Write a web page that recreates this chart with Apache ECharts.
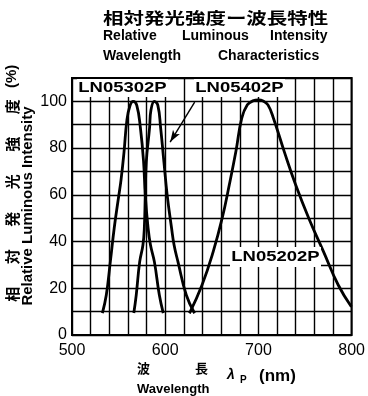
<!DOCTYPE html>
<html>
<head>
<meta charset="utf-8">
<script src="https://cdn.jsdelivr.net/npm/echarts@6/dist/echarts.min.js"></script>
<style>
html,body{margin:0;padding:0;background:#fff;}
#c{width:368px;height:396px;}
</style>
</head>
<body>
<div id="c"></div>
<script>
// ---- data ----
const xTickLabels = [500, 600, 700, 800];
const yTickLabels = [0, 20, 40, 60, 80, 100];
const seriesNames = ['LN05302P', 'LN05402P', 'LN05202P'];
// wavelength (nm), relative luminous intensity (%)
const ln05302p = [[532.6,9.4],[536.8,17.1],[541.1,31.3],[545.3,45.8],[549.5,57.8],[552.6,66.4],[555.8,78.3],[558.9,92.0],[562.1,98.0],[565.5,100],[569.5,98.3],[573.4,88.6],[576.8,74.1],[578.6,59.9],[581.6,45.8],[584.2,38.5],[588.4,31.3],[593.7,17.1],[597.9,9.4]];
const ln05402p = [[566.3,9.4],[568.9,17.1],[572.6,31.3],[576.1,38.5],[577.6,45.8],[578.6,59.9],[579.7,74.1],[583.2,88.6],[584.7,96.3],[588.4,100],[592.1,98.3],[595.1,88.6],[598.6,74.1],[602.1,59.9],[606.8,45.8],[609.5,38.5],[613.7,31.3],[622.6,17.1],[631.5,9.3]];
const ln05202p = [[626,9.3],[639.5,21.4],[651.5,35.7],[661.1,50],[668.7,64.2],[675.8,78.5],[682.1,92.8],[688.1,98.5],[694,100.2],[700,100.6],[705,100.2],[710.2,98.5],[716.1,92.8],[727.7,78.5],[740,64.2],[754,50],[769.8,35.7],[785.6,21.4],[799.7,12.1]];
// arrow pointing from the LN05402P label to its curve
const arrowFrom = [631.6, 99.7];
const arrowTo = [605.3, 82.6];

const chart = echarts.init(document.getElementById('c'), null, {renderer: 'canvas'});
const NUM_FONT = "'Liberation Sans Narrow', 'Liberation Sans', Arial, sans-serif";
const SANS = "'Liberation Sans', Arial, sans-serif";
const JP = "'Noto Sans CJK JP', sans-serif";

function lineSeries(name, data, extra) {
  return Object.assign({
    name: name,
    type: 'line',
    data: data,
    smooth: 0.45,
    symbol: 'none',
    showSymbol: false,
    silent: true,
    lineStyle: {color: '#000', width: 2.8},
    z: 3
  }, extra || {});
}

const option = {
  animation: false,
  backgroundColor: '#fff',
  grid: {left: 72, right: 11, top: 78, bottom: 61, show: true, borderColor: '#000', borderWidth: 2},
  xAxis: {
    type: 'value', min: 500, max: 800, interval: 20,
    axisLine: {show: false}, axisTick: {show: false},
    splitLine: {show: true, lineStyle: {color: '#000', width: 1.4}},
    axisLabel: {
      color: '#000', fontSize: 16, fontFamily: NUM_FONT, margin: 8,
      formatter: v => xTickLabels.indexOf(v) >= 0 ? String(v) : ''
    }
  },
  yAxis: {
    type: 'value', min: 0, max: 110, interval: 10,
    axisLine: {show: false}, axisTick: {show: false},
    splitLine: {show: true, lineStyle: {color: '#000', width: 1.4}},
    axisLabel: {
      color: '#000', fontSize: 16, fontFamily: NUM_FONT, margin: 5,
      formatter: v => yTickLabels.indexOf(v) >= 0 ? String(v) : ''
    }
  },
  series: [
    lineSeries(seriesNames[0], ln05302p),
    lineSeries(seriesNames[1], ln05402p, {
      markLine: {
        silent: true,
        symbol: ['none', 'arrow'],
        symbolSize: [6, 12],
        label: {show: false},
        lineStyle: {color: '#000', width: 1.4, type: 'solid'},
        emphasis: {disabled: true},
        data: [[{coord: arrowFrom}, {coord: arrowTo}]]
      }
    }),
    lineSeries(seriesNames[2], ln05202p)
  ],
  graphic: [
    // titles
    {type: 'text', x: 103, y: 18, scaleX: 1.28, z: 100,
      style: {text: '相対発光強度ー波長特性', font: 'bold 16px ' + JP, fill: '#000', verticalAlign: 'middle'}},
    {type: 'text', x: 103, y: 36, z: 100,
      style: {text: '{a|Relative }{b|Luminous }{c|Intensity}', fill: '#000', verticalAlign: 'middle',
        font: 'bold 14px ' + SANS,
        rich: {
          a: {width: 79, fontSize: 14, fontWeight: 'bold', fontFamily: SANS},
          b: {width: 88, fontSize: 14, fontWeight: 'bold', fontFamily: SANS},
          c: {fontSize: 14, fontWeight: 'bold', fontFamily: SANS}
        }}},
    {type: 'text', x: 103, y: 56, z: 100,
      style: {text: '{a|Wavelength }{b|Characteristics}', fill: '#000', verticalAlign: 'middle',
        font: 'bold 14px ' + SANS,
        rich: {
          a: {width: 115, fontSize: 14, fontWeight: 'bold', fontFamily: SANS},
          b: {fontSize: 14, fontWeight: 'bold', fontFamily: SANS}
        }}},
    // y axis titles
    {type: 'text', x: 12, y: 313, rotation: Math.PI / 2, z: 100,
      style: {text: '{c|相}{c|対}{c|発}{c|光}{c|強}{c|度}{p|(%)}', fill: '#000', verticalAlign: 'middle',
        font: 'bold 15px ' + JP,
        rich: {
          c: {width: 37.5, align: 'center', fontSize: 15, fontWeight: 'bold', fontFamily: JP},
          p: {fontSize: 15, fontWeight: 'bold', fontFamily: SANS}
        }}},
    {type: 'text', x: 28, y: 206, rotation: Math.PI / 2, z: 100,
      style: {text: 'Relative Luminous Intensity', font: 'bold 15px ' + SANS, fill: '#000', align: 'center', verticalAlign: 'middle'}},
    // x axis titles
    {type: 'text', x: 137, y: 368, z: 100,
      style: {text: '{a|波}{b|長}', fill: '#000', verticalAlign: 'middle', font: 'bold 13px ' + JP,
        rich: {
          a: {width: 58, fontSize: 13, fontWeight: 'bold', fontFamily: JP},
          b: {fontSize: 13, fontWeight: 'bold', fontFamily: JP}
        }}},
    {type: 'text', x: 137, y: 389, z: 100,
      style: {text: 'Wavelength', font: 'bold 13px ' + SANS, fill: '#000', verticalAlign: 'middle'}},
    {type: 'text', x: 227, y: 375, z: 100,
      style: {text: 'λ', font: 'italic bold 14px ' + SANS, fill: '#000', verticalAlign: 'middle'}},
    {type: 'text', x: 240, y: 380, z: 100,
      style: {text: 'P', font: 'bold 10px ' + SANS, fill: '#000', verticalAlign: 'middle'}},
    {type: 'text', x: 259, y: 376, z: 100,
      style: {text: '(nm)', font: 'bold 17px ' + SANS, fill: '#000', verticalAlign: 'middle'}},
    // curve labels
    {type: 'text', x: 77, y: 88, scaleX: 1.32, z: 100,
      style: {text: seriesNames[0], font: 'bold 14px ' + SANS, fill: '#000', verticalAlign: 'middle',
        backgroundColor: '#fff', padding: [2, 1, 2, 1]}},
    {type: 'text', x: 194, y: 88, scaleX: 1.32, z: 100,
      style: {text: seriesNames[1], font: 'bold 14px ' + SANS, fill: '#000', verticalAlign: 'middle',
        backgroundColor: '#fff', padding: [2, 1, 2, 1]}},
    {type: 'text', x: 230, y: 257, scaleX: 1.32, z: 100,
      style: {text: seriesNames[2], font: 'bold 14px ' + SANS, fill: '#000', verticalAlign: 'middle',
        backgroundColor: '#fff', padding: [3, 1, 3, 1]}}
  ]
};
chart.setOption(option);
</script>
</body>
</html>
